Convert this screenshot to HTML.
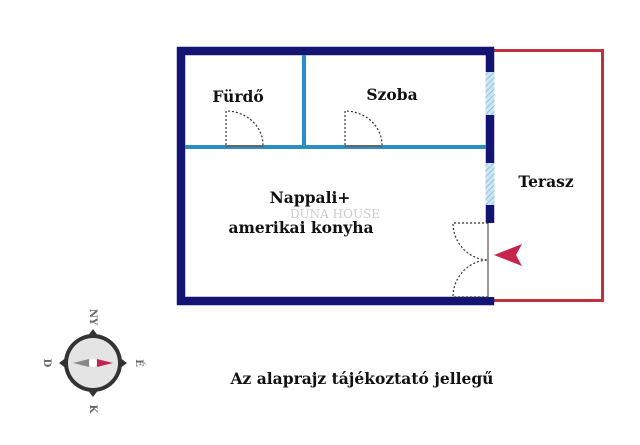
<!DOCTYPE html>
<html><head><style>
body{margin:0;background:#fff;}
text{font-family:"DejaVu Serif","Liberation Serif",serif;font-weight:bold;}
</style></head><body>
<svg width="640" height="440" viewBox="0 0 640 440" xmlns="http://www.w3.org/2000/svg">
<defs>
<pattern id="h" width="4" height="4" patternUnits="userSpaceOnUse" patternTransform="rotate(45)">
<rect width="4" height="4" fill="#cde6f2"/><line x1="0" y1="0" x2="0" y2="4" stroke="#7fb8d6" stroke-width="1.5"/></pattern>
</defs>
<rect width="640" height="440" fill="#fff"/>
<rect x="491" y="50.5" width="111.5" height="250" fill="none" stroke="#c1313d" stroke-width="3"/>
<rect x="181" y="51" width="309" height="250" fill="#fff" stroke="#141473" stroke-width="8.5"/>
<rect x="485.5" y="72" width="9" height="43" fill="url(#h)"/>
<rect x="485.5" y="163" width="9" height="42" fill="url(#h)"/>
<rect x="485.5" y="223" width="9" height="74" fill="#fff"/>
<line x1="488" y1="223" x2="488" y2="297" stroke="#999" stroke-width="2"/>
<line x1="185" y1="147" x2="486" y2="147" stroke="#2a8fc4" stroke-width="4"/>
<line x1="304" y1="55" x2="304" y2="147" stroke="#2a8fc4" stroke-width="4"/>
<g fill="none" stroke="#333" stroke-width="1.2" stroke-dasharray="2,2">
<path d="M226 145 V111 A37 34 0 0 1 263 145"/>
<path d="M345 145 V111 A37 34 0 0 1 382 145"/>
<path d="M488 223 H453 A36 37 0 0 0 488 260"/>
<path d="M488 297 H453 A36 37 0 0 1 488 260"/>
</g>
<line x1="226" y1="146" x2="263" y2="146" stroke="#666" stroke-width="2"/>
<line x1="345" y1="146" x2="382" y2="146" stroke="#666" stroke-width="2"/>
<path d="M494 255 L522 244 L516 255 L522 266 Z" fill="#c8234f"/>
<text x="238" y="102" font-size="15.5" text-anchor="middle" fill="#111">Fürdő</text>
<text x="392" y="100" font-size="15.5" text-anchor="middle" fill="#111">Szoba</text>
<text x="310" y="203" font-size="15.5" text-anchor="middle" fill="#111">Nappali+</text>
<text x="301" y="233" font-size="15.5" text-anchor="middle" fill="#111">amerikai konyha</text>
<text x="546" y="187" font-size="15.5" text-anchor="middle" fill="#111">Terasz</text>
<text x="335" y="218" font-size="12" text-anchor="middle" fill="#ccc" style="font-weight:normal">DUNA HOUSE</text>
<text x="362" y="384" font-size="15.5" text-anchor="middle" fill="#111">Az alaprajz tájékoztató jellegű</text>
<g transform="translate(93,363)">
<path d="M0 -34 L6 -26 L-6 -26 Z M0 34 L6 26 L-6 26 Z M-34 0 L-26 6 L-26 -6 Z M34 0 L26 6 L26 -6 Z" fill="#333"/>
<circle r="29" fill="#333"/>
<circle r="25" fill="#e4e4e4"/>
<path d="M-20 0 L-4 -4 L-4 4 Z" fill="#888"/>
<path d="M20 0 L4 -4 L4 4 Z" fill="#c8234f"/>
<circle r="4" fill="#fff"/>
<text x="0" y="-46" font-size="10" fill="#666" text-anchor="middle" transform="rotate(90 0 -46)" dy="3">NY</text>
<text x="0" y="46" font-size="10" fill="#666" text-anchor="middle" transform="rotate(90 0 46)" dy="3">K</text>
<text x="-46" y="0" font-size="10" fill="#666" text-anchor="middle" transform="rotate(90 -46 0)" dy="3">D</text>
<text x="46" y="0" font-size="10" fill="#666" text-anchor="middle" transform="rotate(90 46 0)" dy="3">É</text>
</g>
</svg>
</body></html>
